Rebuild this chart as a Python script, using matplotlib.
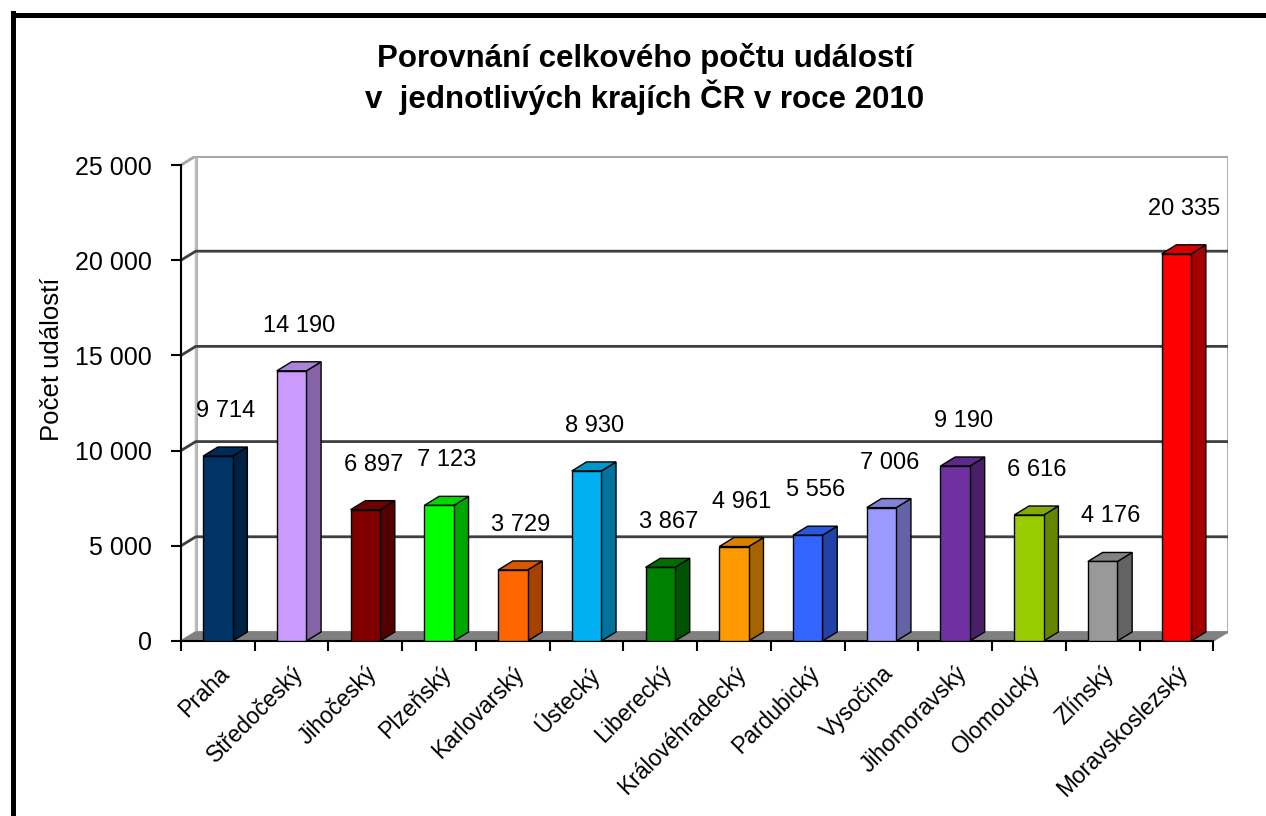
import matplotlib
matplotlib.use("Agg")
import matplotlib.pyplot as plt
from matplotlib.patches import Polygon, Rectangle
from matplotlib.lines import Line2D
import matplotlib.colors as mcolors

plt.rcParams['font.family'] = ['Liberation Sans', 'DejaVu Sans']

# ---------------- data ----------------
regions = ["Praha", "Středočeský", "Jihočeský", "Plzeňský", "Karlovarský", "Ústecký",
           "Liberecký", "Královéhradecký", "Pardubický", "Vysočina", "Jihomoravský",
           "Olomoucký", "Zlínský", "Moravskoslezský"]
events = [9714, 14190, 6897, 7123, 3729, 8930, 3867, 4961, 5556, 7006, 9190, 6616, 4176, 20335]
front_colors = ["#003366", "#CC99FF", "#800000", "#00FF00", "#FF6600", "#00B0F0",
                "#008000", "#FF9900", "#3366FF", "#9999FF", "#7030A0", "#99CC00",
                "#999999", "#FF0000"]
y_ticks = [0, 5000, 10000, 15000, 20000, 25000]
title_lines = ["Porovnání celkového počtu událostí", "v  jednotlivých krajích ČR v roce 2010"]
y_label = "Počet událostí"

# ---------------- style / geometry ----------------
W, H = 1266, 816
DX = 0.2      # depth offset along category axis
DY = 475      # depth offset along value axis
BAR_W = 0.4

def fmt(v):
    return f"{v:,}".replace(",", " ")

def shade(c, f):
    r, g, b = mcolors.to_rgb(c)
    return (r * f, g * f, b * f)

fig = plt.figure(figsize=(W / 100, H / 100), dpi=100)
fig.patch.set_facecolor("white")

ax_left, ax_right, ax_bottom, ax_top = 181, 1228, 641, 156
ax = fig.add_axes([ax_left / W, 1 - ax_bottom / H, (ax_right - ax_left) / W, (ax_bottom - ax_top) / H])
n = len(regions)
x0, x1 = -0.5, n - 0.5
ymax = y_ticks[-1]
ax.set_xlim(x0, x1 + DX)
ax.set_ylim(0, ymax + DY)
ax.patch.set_visible(False)
for s in ["top", "right"]:
    ax.spines[s].set_visible(False)

# back wall
ax.add_patch(Rectangle((x0 + DX, DY), x1 - x0, ymax, facecolor="white",
                       edgecolor="#A6A6A6", lw=2, zorder=1))
# left side wall
ax.add_patch(Polygon([(x0, 0), (x0 + DX, DY), (x0 + DX, ymax + DY), (x0, ymax)],
                     closed=True, facecolor="white", edgecolor="#C0C0C0", lw=1.5, zorder=1))
# floor
ax.add_patch(Polygon([(x0, 0), (x1, 0), (x1 + DX, DY), (x0 + DX, DY)],
                     closed=True, facecolor="#808080", edgecolor="#808080", lw=1, zorder=2))

# gridlines on the walls
for v in y_ticks[1:]:
    col = "#A6A6A6" if v == ymax else "#3F3F3F"
    ax.plot([x0, x0 + DX, x1 + DX], [v, v + DY, v + DY], color=col, lw=2, zorder=2,
            solid_capstyle="butt")

# bars
for i, (v, c) in enumerate(zip(events, front_colors)):
    l, r = i - BAR_W / 2, i + BAR_W / 2
    side = Polygon([(r, 0), (r + DX, DY), (r + DX, v + DY), (r, v)], closed=True,
                   facecolor=shade(c, 0.65), edgecolor="black", lw=1, zorder=4)
    top = Polygon([(l, v), (r, v), (r + DX, v + DY), (l + DX, v + DY)], closed=True,
                  facecolor=shade(c, 0.85), edgecolor="black", lw=1, zorder=4)
    ax.add_patch(side)
    ax.add_patch(top)
ax.bar(range(n), events, width=BAR_W, color=front_colors, edgecolor="black", lw=1, zorder=5)

# data labels
for i, v in enumerate(events):
    ax.annotate(fmt(v), (i, v), xytext=(8, 45), textcoords="offset pixels",
                ha="center", va="center", fontsize=17, zorder=6)

# y axis
ax.spines["left"].set_bounds(0, ymax)
ax.spines["left"].set_linewidth(1.5)
ax.set_yticks(y_ticks)
ax.set_yticklabels([fmt(v) for v in y_ticks], fontsize=18)
ax.tick_params(axis="y", direction="out", length=7, width=1.5, pad=14)

# x axis
ax.spines["bottom"].set_bounds(x0, x1)
ax.spines["bottom"].set_linewidth(1.5)
ax.set_xticks(range(n))
ax.set_xticklabels(regions, fontsize=16.5, rotation=45, ha="right", va="top",
                   rotation_mode="anchor")
ax.set_xticks([k - 0.5 for k in range(n + 1)], minor=True)
ax.tick_params(axis="x", which="major", length=0, pad=15)
ax.tick_params(axis="x", which="minor", direction="out", length=7, width=1.5)

# y label
fig.text(52 / W, 1 - 359 / H, y_label, rotation=90, ha="center", va="center", fontsize=18.5)

# title
fig.text(645 / W, 1 - 67 / H, title_lines[0], ha="center", va="baseline",
         fontsize=22.5, fontweight="bold")
fig.text(645 / W, 1 - 108 / H, title_lines[1], ha="center", va="baseline",
         fontsize=22.5, fontweight="bold")

# outer border (left and top edges visible)
fig.add_artist(Line2D([12.5 / W, 12.5 / W], [0, 1 - 12.5 / H], color="black", lw=3.6,
                      transform=fig.transFigure, solid_capstyle="projecting"))
fig.add_artist(Line2D([12.5 / W, 1], [1 - 15 / H, 1 - 15 / H], color="black", lw=3.6,
                      transform=fig.transFigure, solid_capstyle="projecting"))

fig.savefig("out.png", dpi=100)
